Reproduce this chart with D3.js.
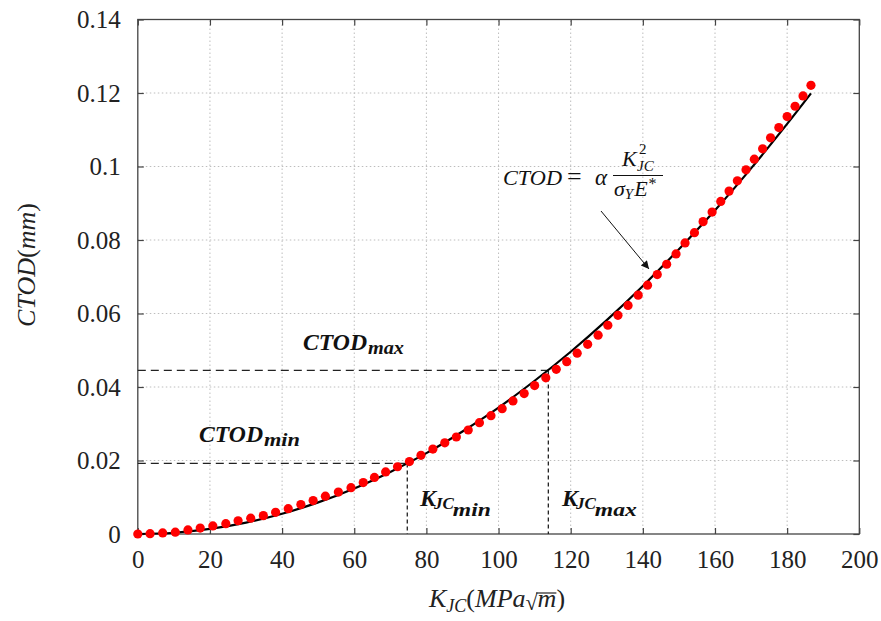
<!DOCTYPE html>
<html><head><meta charset="utf-8">
<script src="https://cdn.jsdelivr.net/npm/d3@7"></script>
<style>body{margin:0;background:#fff}svg{display:block}</style>
</head><body>
<svg id="chart" width="881" height="621"></svg>
<script>
// ---- data ----
const xTicks = [0,20,40,60,80,100,120,140,160,180,200];
const xTickLabels = ["0","20","40","60","80","100","120","140","160","180","200"];
const yTicks = [0,0.02,0.04,0.06,0.08,0.1,0.12,0.14];
const yTickLabels = ["0","0.02","0.04","0.06","0.08","0.1","0.12","0.14"];
// simulated points (K_JC, CTOD)
const simK = [0,3.4,6.9,10.4,13.9,17.3,20.8,24.4,27.8,31.3,34.8,38.2,41.7,45.2,48.6,52.0,55.6,59.1,62.5,65.6,68.7,72.0,75.3,78.5,81.8,85.1,88.3,91.6,94.7,97.9,101.0,104.0,107.1,110.0,113.1,116.0,118.9,121.8,124.7,127.6,130.3,133.1,135.9,138.7,141.3,144.0,146.6,149.2,151.7,154.3,156.7,159.2,161.6,163.9,166.2,168.6,170.9,173.2,175.4,177.7,180.0,182.2,184.4,186.6];
const simCTOD = [0,0.0001,0.0003,0.0005,0.0011,0.0016,0.0022,0.0028,0.0036,0.0043,0.0050,0.0059,0.0069,0.0080,0.0091,0.0103,0.0114,0.0126,0.0140,0.0154,0.0169,0.0183,0.0197,0.0214,0.0231,0.0248,0.0264,0.0283,0.0303,0.0322,0.0341,0.0362,0.0382,0.0404,0.0425,0.0448,0.0469,0.0492,0.0516,0.0541,0.0568,0.0595,0.0622,0.0650,0.0677,0.0706,0.0734,0.0762,0.0792,0.0820,0.0850,0.0876,0.0905,0.0933,0.0961,0.0991,0.1020,0.1048,0.1078,0.1106,0.1136,0.1164,0.1192,0.1221];
// fitted curve CTOD = alpha K^2 / (sigmaY E*)
const fitK = [0,10,20,30,40,50,60,70,80,90,100,110,120,130,140,150,160,170,180,186.6];
const fitCTOD = [0,0.00034,0.00138,0.0031,0.0055,0.0086,0.0124,0.0169,0.0220,0.0279,0.0344,0.0417,0.0496,0.0582,0.0675,0.0775,0.0881,0.0995,0.1116,0.1199];
// limits
const kMin = 74.7, ctodMin = 0.0192;
const kMax = 113.8, ctodMax = 0.0445;

// ---- chart ----
const svg = d3.select("#chart");
const x = d3.scaleLinear().domain([0,200]).range([137.8,859.3]);
const y = d3.scaleLinear().domain([0,0.14]).range([534,19.5]);
const serif = "'Liberation Serif', 'DejaVu Serif', serif";

// grid
const g = svg.append("g");
g.selectAll("line.gx").data(xTicks.slice(1,-1)).join("line")
  .attr("x1", d=>x(d)).attr("x2", d=>x(d)).attr("y1", y(0)).attr("y2", y(0.14))
  .attr("stroke","#bdbdbd").attr("stroke-width",1).attr("stroke-dasharray","1.5,2.5");
g.selectAll("line.gy").data(yTicks.slice(1,-1)).join("line")
  .attr("y1", d=>y(d)).attr("y2", d=>y(d)).attr("x1", x(0)).attr("x2", x(200))
  .attr("stroke","#bdbdbd").attr("stroke-width",1).attr("stroke-dasharray","1.5,2.5");

// axes
function styleAxis(sel){
  sel.select(".domain").remove();
  sel.selectAll(".tick line").attr("stroke","#444").attr("stroke-width",1.2);
  sel.selectAll(".tick text").style("font-family",serif).style("font-size","25px").attr("fill","#222");
}
const ax = svg.append("g").attr("transform",`translate(0,${y(0)})`)
  .call(d3.axisBottom(x).tickValues(xTicks).tickFormat((d,i)=>xTickLabels[i]).tickSize(-6).tickPadding(0));
styleAxis(ax);
ax.selectAll(".tick text").attr("y",34).attr("dy",0);
const axT = svg.append("g").attr("transform",`translate(0,${y(0.14)})`)
  .call(d3.axisTop(x).tickValues(xTicks).tickFormat("").tickSize(-6));
styleAxis(axT);
const ay = svg.append("g").attr("transform",`translate(${x(0)},0)`)
  .call(d3.axisLeft(y).tickValues(yTicks).tickFormat((d,i)=>yTickLabels[i]).tickSize(-6).tickPadding(0));
styleAxis(ay);
ay.selectAll(".tick text").attr("x",-17).attr("dy","0.33em");
const ayR = svg.append("g").attr("transform",`translate(${x(200)},0)`)
  .call(d3.axisRight(y).tickValues(yTicks).tickFormat("").tickSize(-6));
styleAxis(ayR);
svg.append("rect").attr("x",x(0)).attr("y",y(0.14)).attr("width",x(200)-x(0)).attr("height",y(0)-y(0.14))
  .attr("fill","none").attr("stroke","#444").attr("stroke-width",1.3);

// dashed guide lines
svg.append("line").attr("x1",x(0)).attr("x2",x(kMax)).attr("y1",y(ctodMax)).attr("y2",y(ctodMax))
  .attr("stroke","#222").attr("stroke-width",1.3).attr("stroke-dasharray","8,5");
svg.append("line").attr("x1",x(0)).attr("x2",x(kMin)).attr("y1",y(ctodMin)).attr("y2",y(ctodMin))
  .attr("stroke","#222").attr("stroke-width",1.3).attr("stroke-dasharray","8,5");
svg.append("line").attr("x1",x(kMin)).attr("x2",x(kMin)).attr("y1",y(ctodMin)).attr("y2",y(0))
  .attr("stroke","#222").attr("stroke-width",1.3).attr("stroke-dasharray","4,3");
svg.append("line").attr("x1",x(kMax)).attr("x2",x(kMax)).attr("y1",y(ctodMax)).attr("y2",y(0))
  .attr("stroke","#222").attr("stroke-width",1.3).attr("stroke-dasharray","4,3");

// fitted curve
const fit = fitK.map((k,i)=>[k,fitCTOD[i]]);
svg.append("path").datum(fit)
  .attr("d", d3.line().x(d=>x(d[0])).y(d=>y(d[1])).curve(d3.curveCatmullRom))
  .attr("fill","none").attr("stroke","#000").attr("stroke-width",2.2);

// simulated points
const sim = simK.map((k,i)=>[k,simCTOD[i]]);
svg.append("g").selectAll("circle").data(sim).join("circle")
  .attr("cx",d=>x(d[0])).attr("cy",d=>y(d[1])).attr("r",4.6).attr("fill","#ff0000");

// axis titles
const xl = svg.append("text").attr("x",497).attr("y",607).attr("text-anchor","middle")
  .style("font-family",serif).style("font-size","26px").attr("fill","#222");
xl.append("tspan").style("font-style","italic").text("K");
xl.append("tspan").style("font-style","italic").style("font-size","18px").attr("dy",5).text("JC");
xl.append("tspan").attr("dy",-5).text("(");
xl.append("tspan").style("font-style","italic").text("MPa");
xl.append("tspan").style("font-size","22px").attr("dy",3).text("√");
xl.append("tspan").style("font-style","italic").attr("dy",-3).text("m");
xl.append("tspan").text(")");
// radical overline
try {
  const node = xl.node();
  const eR = node.getExtentOfChar(7), eM = node.getExtentOfChar(8);
  svg.append("line").attr("x1",eR.x+eR.width-1.5).attr("x2",eM.x+eM.width)
    .attr("y1",eR.y+3).attr("y2",eR.y+3).attr("stroke","#222").attr("stroke-width",1.2);
} catch(e) {}

const yl = svg.append("text").attr("transform","translate(35,265) rotate(-90)").attr("text-anchor","middle")
  .style("font-family",serif).style("font-size","26px").attr("fill","#222");
yl.append("tspan").style("font-style","italic").text("CTOD");
yl.append("tspan").text("(");
yl.append("tspan").style("font-style","italic").text("mm");
yl.append("tspan").text(")");

// annotations
const bi = (sel)=>sel.style("font-family",serif).style("font-weight","bold").style("font-style","italic").attr("fill","#111");
function ctodLabel(x0, yb, sub){
  const t = bi(svg.append("text").attr("x",x0).attr("y",yb).style("font-size","23px"));
  t.append("tspan").attr("textLength",64).attr("lengthAdjust","spacingAndGlyphs").text("CTOD");
  t.append("tspan").style("font-size","19px").attr("dy",4).attr("dx",1)
    .attr("textLength",36).attr("lengthAdjust","spacingAndGlyphs").text(sub);
}
ctodLabel(303,350,"max");
ctodLabel(199,442,"min");
function kLabel(x0, yb, sub){
  const t = bi(svg.append("text").attr("x",x0).attr("y",yb).style("font-size","24px"));
  t.append("tspan").text("K");
  t.append("tspan").style("font-size","17px").attr("dy",3).attr("dx",-2).text("JC");
  t.append("tspan").style("font-size","19px").attr("dy",7).attr("dx",-1)
    .attr("textLength",sub==="min"?38:42).attr("lengthAdjust","spacingAndGlyphs").text(sub);
}
kLabel(420,506,"min");
kLabel(562,506,"max");

// equation
const eq = svg.append("g").style("font-family",serif).attr("fill","#111");
eq.append("text").attr("x",503).attr("y",185).style("font-size","21px").style("font-style","italic")
  .attr("textLength",59).attr("lengthAdjust","spacingAndGlyphs").text("CTOD");
eq.append("text").attr("x",567).attr("y",185).style("font-size","26px").text("=");
eq.append("text").attr("x",595).attr("y",185).style("font-size","23px").style("font-style","italic").text("α");
eq.append("line").attr("x1",613).attr("x2",663).attr("y1",175.5).attr("y2",175.5).attr("stroke","#111").attr("stroke-width",1.1);
eq.append("text").attr("x",622).attr("y",166).style("font-size","22px").style("font-style","italic").text("K");
eq.append("text").attr("x",639).attr("y",154).style("font-size","15px").text("2");
eq.append("text").attr("x",637).attr("y",171).style("font-size","15px").style("font-style","italic").text("JC");
const den = eq.append("text").attr("x",614).attr("y",196).style("font-size","22px").style("font-style","italic");
den.append("tspan").text("σ");
den.append("tspan").style("font-size","15px").attr("dy",3).text("Y");
den.append("tspan").attr("dy",-3).attr("dx",1).text("E");
den.append("tspan").style("font-size","16px").attr("dy",-7).text("*");

// arrow
const defs = svg.append("defs");
defs.append("marker").attr("id","ah").attr("viewBox","0 0 10 10").attr("refX",10).attr("refY",5)
  .attr("markerWidth",10).attr("markerHeight",8).attr("markerUnits","userSpaceOnUse").attr("orient","auto")
  .append("path").attr("d","M0,0 L10,5 L0,10 Z").attr("fill","#111");
svg.append("line").attr("x1",601).attr("y1",211).attr("x2",649).attr("y2",269)
  .attr("stroke","#111").attr("stroke-width",1).attr("marker-end","url(#ah)");
</script>
</body></html>
